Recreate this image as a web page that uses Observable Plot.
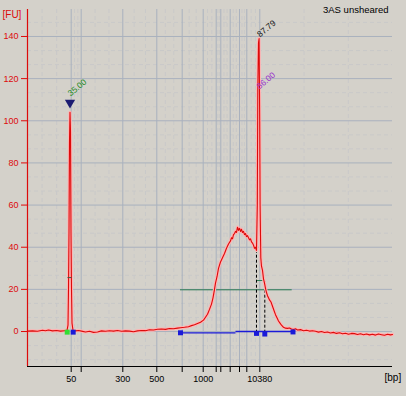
<!DOCTYPE html>
<html><head><meta charset="utf-8">
<script src="https://cdn.jsdelivr.net/npm/d3@7"></script>
<script src="https://cdn.jsdelivr.net/npm/@observablehq/plot@0.6"></script>
<style>
html,body{margin:0;padding:0;background:#d4d1ca;}
#chart svg{display:block;background:linear-gradient(#fdfdfd,#d3d0c9);}
</style></head><body><div id="chart"></div>
<script>
// migration time (s) and fluorescence (FU)
const traceTime = [40.0,41.0,42.0,43.0,43.6,44.2,45.0,45.8,46.6,47.4,47.9,48.1,48.2,48.3,48.4,48.5,48.6,48.7,48.8,48.9,49.1,49.6,50.2,50.8,51.6,52.4,53.2,54.0,54.8,55.6,56.4,57.2,58.0,58.8,59.6,60.4,61.2,62.0,62.8,63.6,64.4,65.2,66.0,66.8,67.6,68.4,69.2,70.0,70.6,71.4,72.2,72.8,73.4,74.0,74.6,75.2,75.6,76.0,76.4,76.8,77.1,77.4,77.6,77.9,78.2,78.6,79.0,79.4,79.8,80.2,80.6,80.8,81.0,81.2,81.4,81.6,81.8,82.0,82.2,82.4,82.6,82.8,83.0,83.2,83.4,83.6,83.8,84.0,84.2,84.4,84.6,84.8,85.0,85.2,85.4,85.6,85.8,85.96,86.06,86.2,86.32,86.44,86.52,86.66,86.8,87.0,87.2,87.4,87.6,87.8,88.0,88.2,88.4,88.7,89.0,89.3,89.6,89.9,90.2,90.5,90.8,91.2,91.6,92.0,92.4,92.8,93.2,93.6,94.0,94.6,95.2,95.8,96.4,97.0,97.6,98.2,98.8,99.4,100.0,100.6,101.2,101.8,102.4,103.0,103.6,104.2,104.8,105.4,106.0,106.6,107.2,107.8,108.4,109.0,109.6,110.2,110.8,111.4,112.0,112.6,113.0];
const traceFU = [0.2,0.3,0.1,0.6,0.4,0.7,0.3,0.5,0.2,0.4,0.5,3,20,47,90,104,95,47,20,4,0.6,0.3,0.5,0.2,-0.2,0.1,-0.4,-0.2,0.3,0.1,0.4,0.2,0.5,0.1,0.3,0.2,-0.1,0.3,0.5,0.4,0.8,0.7,1.1,1.2,1.0,1.4,1.3,1.6,1.8,2.0,2.3,2.8,3.2,3.8,4.4,5.4,6.8,8.2,10.5,13,16,20,23,26,30,33,35,37,39.5,41.5,43,44.5,44,46,46.5,47.5,47,49.5,48,49,47.5,48.5,47,47.5,46,46.5,45,45.5,44.5,43.5,44,42.5,42,41,39.5,40,38.5,60,115,137,139,100,60,35,31,29,25,23,20.5,18.5,17,16,15,14,12,10,8,6.5,5,4,3,2,1.6,1.5,1.7,1.2,1.0,1.3,0.7,0.9,0.4,0.6,0.2,0.4,0.1,-0.3,0.0,-0.5,-0.2,-0.7,-0.4,-0.9,-0.6,-1.1,-0.8,-1.3,-0.9,-1.0,-1.4,-1.1,-1.5,-1.2,-1.6,-1.3,-1.7,-1.2,-1.5,-1.8,-1.3,-1.6,-1.4];

// ladder: migration times and their sizes
const ladderTimes = [48.74,50.74,59.06,65.86,70.94,75.14,77.74,78.66,80.54,82.4,83.86,86.46];
const ladderBp = [50,100,300,500,700,1000,1500,2000,3000,5000,7000,10380];
const labeledBp = [50,300,500,1000,10380];
const fuTicks = [0,20,40,60,80,100,120,140];

// peak annotations
const peakTimes = [48.5,86.25,86.35];
const peakFU = [112.5,115.8,140.5];
const peakLabels = ["35.00","86.00","87.79"];
const peakColors = ["#1c8a1c","#9933cc","#111111"];
const markerTime = [48.5];
const markerFU = [108.6];

// smear region and baseline
const regionTimes = [70.6,92.94];
const regionFU = [19.8];
const splitTimes = [85.8,87.46];
const splitTopFU = [38.5,23.6];
const splitLevelFU = [24.2];
const baseSegStart = [70.6,81.7];
const baseSegEnd = [81.7,93.1];
const baseSegFU = [-0.6,0.0];
const baseDotTimes = [70.6,85.8,87.46,93.1];
const baseDotFU = [-0.6,-0.9,-1.2,-0.2];
const markerDotTimes = [47.94,49.14];
const markerDotFU = [-0.3,-0.3];
const markerDotColors = ["#33dd33","#1a1ad8"];
const halfHeight = {t1:48.1, t2:48.9, fu:25.6};

const xDomain = [40,113];
const yDomain = [-16.6,152.8];

const trace = traceTime.map((t,i)=>({t, fu:traceFU[i]}));
const bounds = [xDomain[0], ...ladderTimes, xDomain[1]];
const minorX = [];
for (let i=0;i<bounds.length-1;i++){const a=bounds[i],b=bounds[i+1];minorX.push(a+(b-a)/3,a+2*(b-a)/3);}
const minorY = d3.range(-13.333,153,20/3).filter(v=>Math.abs(v/20-Math.round(v/20))>0.01);
const labelFor = new Map(ladderTimes.map((t,i)=>[t, labeledBp.includes(ladderBp[i]) ? String(ladderBp[i]) : ""]));
const peaks = peakTimes.map((t,i)=>({t, fu:peakFU[i], label:peakLabels[i], color:peakColors[i]}));
const baseSegs = baseSegStart.map((s,i)=>({x1:s, x2:baseSegEnd[i], y:baseSegFU[i]}));
const baseDots = baseDotTimes.map((t,i)=>({t, fu:baseDotFU[i]}));
const mDots = markerDotTimes.map((t,i)=>({t, fu:markerDotFU[i], c:markerDotColors[i]}));
const splits = splitTimes.map((t,i)=>({t, top:splitTopFU[i]}));

const chart = Plot.plot({
  width:406, height:396,
  marginLeft:27, marginRight:14, marginTop:9, marginBottom:30,
  style:{fontFamily:"'Liberation Sans', Arial, sans-serif", fontSize:"9px", background:"transparent"},
  x:{domain:xDomain},
  y:{domain:yDomain},
  marks:[
    Plot.ruleX(minorX,{stroke:"#c9c9c9",strokeDasharray:"4,3"}),
    Plot.ruleY(minorY,{stroke:"#c9c9c9",strokeDasharray:"4,3"}),
    Plot.ruleX(ladderTimes,{stroke:"#a9b1be"}),
    Plot.ruleY(fuTicks,{stroke:"#a9b1be"}),
    Plot.ruleY(regionFU,{x1:regionTimes[0],x2:regionTimes[1],stroke:"#2a7a52"}),
    Plot.ruleY(splitLevelFU,{x1:splitTimes[0],x2:splitTimes[1]-0.15,stroke:"#2a7a52"}),
    Plot.ruleX(splits,{x:"t",y1:-0.8,y2:"top",stroke:"#000",strokeDasharray:"3,2"}),
    Plot.line(trace,{x:"t",y:"fu",stroke:"#ffb3b3",strokeWidth:3.2,strokeLinejoin:"round"}),
    Plot.line(trace,{x:"t",y:"fu",stroke:"#dd0a0a",strokeWidth:1.1}),
    Plot.ruleY(baseSegs,{x1:"x1",x2:"x2",y:"y",stroke:"#1a1ad8",strokeWidth:1.3}),
    Plot.ruleY([halfHeight.fu],{x1:halfHeight.t1,x2:halfHeight.t2,stroke:"#445544"}),
    Plot.dot(baseDots,{x:"t",y:"fu",symbol:"square",r:2.8,fill:"#1a1ad8"}),
    Plot.dot(mDots,{x:"t",y:"fu",symbol:"square",r:2.8,fill:"c"}),
    Plot.dot(markerTime.map((t,i)=>({t,fu:markerFU[i]})),{x:"t",y:"fu",symbol:"triangle",r:3.8,rotate:180,fill:"#1c1c72"}),
    Plot.text(peaks,{x:"t",y:"fu",text:"label",fill:"color",rotate:-40,textAnchor:"start",fontSize:8.5,dx:-1}),
    Plot.ruleX([xDomain[0]],{stroke:"#dd0a0a",strokeWidth:1.2}),
    Plot.ruleY([yDomain[0]],{stroke:"#000"}),
    Plot.axisY({ticks:fuTicks,tickSize:6,tickPadding:3,stroke:"#dd0a0a",fill:"#dd0a0a",label:null,fontSize:9}),
    Plot.axisX({ticks:ladderTimes,tickFormat:d=>labelFor.get(d),tickSize:6,tickPadding:3,stroke:"#000",fill:"#000",label:null,fontSize:9}),
    Plot.text(["[FU]"],{frameAnchor:"top-left",dx:-25,dy:1,textAnchor:"start",fill:"#dd0a0a",fontSize:10}),
    Plot.text(["[bp]"],{frameAnchor:"bottom-right",dx:-8,dy:14,textAnchor:"start",fill:"#000",fontSize:10}),
    Plot.text(["3AS unsheared"],{frameAnchor:"top-right",dx:-4,dy:-3,textAnchor:"end",fill:"#000",fontSize:9.5})
  ]
});
document.getElementById("chart").append(chart);
</script></body></html>
